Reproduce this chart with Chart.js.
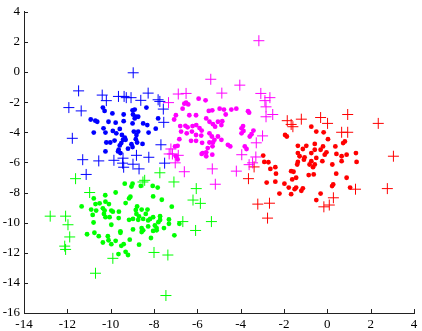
<!DOCTYPE html>
<html>
<head>
<meta charset="utf-8">
<script src="https://cdn.jsdelivr.net/npm/chart.js@4.4.0/dist/chart.umd.min.js"></script>
<style>
  html, body { margin: 0; padding: 0; background: #fff; }
  canvas { display: block; }
</style>
</head>
<body>
<canvas id="scatterChart" width="422" height="331"></canvas>
<script>
// Graduations des axes
const xTickValues = [-14, -12, -10, -8, -6, -4, -2, 0, 2, 4];
const yTickValues = [-16, -14, -12, -10, -8, -6, -4, -2, 0, 2, 4];

// Groupe bleu
const blueCore = [
    [-10.36,-2.36],[-10.28,-2.58],[-10.92,-3.15],[-10.71,-3.23],[-10.62,-3.3],[-10.78,-4.02],
    [-10.33,-3.74],[-10.24,-4.02],[-9.92,-2.75],[-10.1,-3.3],[-9.77,-3.36],[-9.4,-2.82],
    [-9.4,-3.26],[-9.58,-3.78],[-9.9,-3.91],[-9.74,-4.07],[-9.48,-4.18],[-9.35,-4.35],
    [-9.43,-4.5],[-9.31,-4.5],[-10.2,-4.68],[-10.02,-4.68],[-9.82,-4.55],[-10.24,-5.27],
    [-9.63,-5.16],[-9.58,-4.87],[-9.55,-5.38],[-9.2,-5.09],[-8.99,-2.54],[-8.89,-2.49],
    [-8.97,-2.82],[-8.99,-3.41],[-8.84,-2.97],[-8.89,-3.08],[-8.73,-2.97],[-8.93,-3.95],
    [-8.73,-3.95],[-8.81,-4.18],[-8.5,-3.41],[-8.84,-4.46],[-8.78,-4.68],[-8.53,-4.77],
    [-8.35,-2.36],[-8.31,-3.52],[-8.25,-4.02],[-7.92,-3.76],[-7.81,-3.08],[-9.04,-4.79],
    [-8.99,-4.98],[-9.66,-5.27],[-9.51,-4.72]
];
const bluePlus = [
    [-8.96,-0.05],[-11.48,-1.25],[-11.93,-2.36],[-11.36,-2.58],[-11.77,-4.4],[-10.39,-1.53],
    [-10.2,-1.9],[-9.64,-1.62],[-9.38,-1.62],[-9.28,-1.7],[-9.06,-1.7],[-8.61,-1.88],
    [-8.27,-1.4],[-7.81,-1.84],[-7.73,-1.95],[-7.57,-2.46],[-7.55,-3.34],[-7.68,-4.83],
    [-11.29,-5.82],[-10.55,-5.9],[-9.85,-5.86],[-9.43,-5.72],[-9.45,-6.05],[-9.4,-6.32],
    [-8.81,-5.53],[-8.97,-6.12],[-8.69,-6.43],[-8.24,-5.66],[-7.51,-6.05],[-11.13,-6.8]
];

// Groupe magenta
const magentaCore = [
    [-6.6,-2.1],[-6.52,-2.03],[-6.42,-2.15],[-6.68,-2.43],[-6.99,-2.87],[-5.94,-1.77],
    [-5.62,-1.88],[-6.37,-2.87],[-6.06,-2.87],[-7.07,-3.15],[-5.47,-2.58],[-5.31,-2.54],
    [-5.59,-3.08],[-5.44,-3.3],[-4.97,-2.43],[-4.77,-2.49],[-4.69,-2.82],[-4.43,-2.49],
    [-4.2,-2.43],[-5.05,-3.3],[-4.85,-3.26],[-4.89,-3.52],[-5.28,-3.46],[-5.18,-3.63],
    [-3.66,-2.6],[-3.61,-2.7],[-6.79,-3.59],[-6.55,-3.57],[-6.45,-3.67],[-6.22,-3.59],
    [-6.05,-3.52],[-5.9,-3.72],[-5.8,-3.89],[-6.75,-3.95],[-6.49,-4.07],[-6.25,-3.95],
    [-6.06,-4.18],[-5.82,-4.22],[-5.44,-4.07],[-5.33,-4.28],[-5.05,-4.28],[-6.83,-4.46],
    [-6.29,-4.57],[-6.06,-4.57],[-5.78,-4.7],[-5.44,-4.68],[-5.28,-4.68],[-5.21,-4.5],
    [-4.89,-4.5],[-4.59,-4.83],[-4.48,-4.94],[-6.91,-4.9],[-7.03,-4.94],[-5.52,-5.05],
    [-5.59,-5.33],[-5.8,-5.44],[-5.31,-5.49],[-5.59,-5.59],[-5.75,-5.38],[-6.99,-5.59],
    [-6.91,-5.8],[-3.96,-3.74],[-3.89,-3.59],[-3.87,-3.91],[-3.96,-4.07],[-3.58,-4.28],
    [-3.41,-3.89],[-3.5,-4.13],[-3.81,-4.94],[-3.73,-5.11],[-5.3,-4.93]
];
const magentaPlus = [
    [-3.16,2.08],[-5.38,-0.48],[-4.04,-0.87],[-4.87,-1.4],[-6.88,-1.46],[-6.52,-1.42],
    [-7.33,-2.03],[-3.07,-1.42],[-2.88,-1.9],[-2.65,-1.7],[-2.83,-2.31],[-2.83,-2.97],
    [-2.52,-2.82],[-2.99,-4.24],[-3.28,-4.7],[-3.95,-5.49],[-3.3,-5.64],[-3.61,-6.15],
    [-3.45,-6.03],[-7.22,-5.11],[-7.3,-5.44],[-7.15,-5.44],[-6.88,-5.53],[-7.02,-6.03],
    [-6.6,-6.62],[-5.31,-6.43],[-4.2,-6.58],[-5.17,-7.45]
];

// Groupe rouge
const redCore = [
    [-1.95,-4.18],[-1.87,-4.28],[-0.74,-3.63],[-0.51,-3.95],[-0.17,-4.0],[0.03,-4.46],
    [0.73,-4.72],[0.81,-4.61],[-1.36,-4.9],[-0.97,-4.9],[-1.13,-5.11],[-0.58,-4.77],
    [-0.58,-5.16],[-0.2,-4.94],[-0.31,-5.16],[-1.36,-5.38],[-1.28,-5.59],[-1.05,-5.66],
    [-0.74,-5.38],[-0.51,-5.7],[-0.04,-5.33],[-0.12,-5.49],[0.42,-5.44],[0.89,-5.49],
    [0.66,-5.59],[1.32,-5.38],[0.37,-4.94],[-2.96,-5.55],[-2.91,-5.97],[-2.72,-5.99],
    [-2.63,-6.43],[-2.4,-6.32],[-2.37,-6.75],[-2.8,-7.34],[-2.4,-7.28],[-2.21,-8.07],
    [-1.98,-7.41],[-1.78,-7.67],[-1.67,-8.11],[-1.67,-6.58],[-1.56,-6.62],[-1.62,-7.13],
    [-1.44,-7.02],[-1.51,-7.78],[-1.44,-7.67],[-1.2,-7.89],[-1.13,-7.72],[-1.39,-6.14],
    [-1.36,-5.97],[-1.08,-5.82],[-0.82,-6.14],[-0.74,-5.92],[-0.66,-6.32],[-0.58,-6.14],
    [-0.86,-6.84],[-0.63,-6.8],[-0.31,-8.07],[-0.51,-8.5],[-0.23,-5.92],[0.23,-6.14],
    [0.41,-6.75],[0.27,-7.46],[0.22,-7.57],[0.66,-5.92],[0.89,-7.02],[1.05,-7.67],
    [1.35,-5.97]
];
const redPlus = [
    [-1.85,-3.23],[-1.67,-3.48],[-1.59,-3.63],[-1.2,-3.13],[-0.31,-3.02],[0.01,-3.41],
    [0.94,-2.82],[0.66,-4.0],[0.94,-4.0],[2.35,-3.41],[3.05,-5.59],[-3.38,-6.3],
    [-3.64,-7.08],[-3.21,-8.77],[-2.67,-8.71],[-2.76,-9.7],[-0.16,-8.95],[0.09,-8.83],
    [0.28,-8.35],[1.3,-7.78],[2.77,-7.74]
];

// Groupe vert
const greenCore = [
    [-8.99,-7.41],[-9.04,-7.6],[-8.61,-7.56],[-8.06,-7.56],[-7.83,-7.67],[-9.77,-8.0],
    [-10.25,-8.18],[-10.78,-8.39],[-9.09,-8.28],[-9.15,-8.39],[-8.04,-8.26],[-7.64,-8.48],
    [-9.31,-8.7],[-10.7,-8.77],[-10.51,-8.72],[-10.08,-8.77],[-11.34,-8.92],[-10.9,-9.13],
    [-10.67,-9.2],[-10.36,-9.05],[-10.28,-9.2],[-9.97,-9.2],[-9.9,-9.27],[-9.62,-9.27],
    [-8.78,-8.92],[-8.84,-9.16],[-8.57,-9.13],[-8.3,-9.13],[-8.81,-9.42],[-8.69,-9.59],
    [-10.83,-9.49],[-10.31,-9.42],[-10.24,-9.64],[-10.05,-9.64],[-9.63,-9.7],[-8.38,-9.42],
    [-8.04,-9.64],[-7.18,-8.94],[-7.72,-9.57],[-9.15,-9.81],[-8.97,-9.75],[-8.73,-9.81],
    [-8.5,-9.75],[-8.27,-9.85],[-8.18,-9.75],[-7.8,-9.97],[-7.72,-9.82],[-7.31,-9.79],
    [-7.31,-10.08],[-6.83,-10.08],[-9.97,-10.14],[-9.55,-10.58],[-8.97,-10.45],[-8.57,-10.36],
    [-8.5,-10.51],[-8.27,-10.25],[-7.96,-10.19],[-7.88,-10.36],[-8.04,-10.55],[-7.88,-10.51],
    [-7.54,-10.36],[-11.09,-10.77],[-10.75,-10.67],[-10.55,-10.9],[-10.13,-10.9],[-10.1,-11.17],
    [-10.36,-11.32],[-9.97,-11.43],[-9.77,-11.21],[-9.55,-10.67],[-9.51,-11.54],[-9.4,-11.43],
    [-9.64,-12.09],[-9.31,-11.94],[-9.2,-12.15],[-9.12,-11.13],[-8.69,-11.46],[-8.57,-10.62],
    [-8.14,-11.02],[-7.06,-10.84],[-10.79,-9.99],[-10.24,-8.61],[-9.35,-7.41]
];
const greenPlus = [
    [-11.62,-7.08],[-10.97,-8.0],[-12.79,-9.57],[-12.08,-9.57],[-11.97,-10.14],[-8.43,-7.19],
    [-8.51,-7.3],[-7.73,-6.69],[-7.08,-7.3],[-6.05,-7.74],[-6.2,-8.5],[-5.86,-8.72],
    [-6.67,-9.93],[-5.35,-9.93],[-6.08,-10.52],[-11.89,-10.95],[-12.12,-11.56],[-12.08,-11.78],
    [-9.9,-12.37],[-8.0,-11.98],[-7.36,-12.15],[-10.7,-13.36],[-7.45,-14.84]
];

function toPoints(arr) {
    return arr.map(p => ({ x: p[0], y: p[1] }));
}

function coreSet(arr, color) {
    return {
        data: toPoints(arr),
        pointStyle: 'circle',
        pointRadius: 2.4,
        pointBorderWidth: 0,
        backgroundColor: color,
        borderColor: color
    };
}

function plusSet(arr, color) {
    return {
        data: toPoints(arr),
        pointStyle: 'cross',
        pointRadius: 5.5,
        pointBorderWidth: 1,
        backgroundColor: color,
        borderColor: color
    };
}

// Petits traits de graduation vers l'intérieur
const inwardTicks = {
    id: 'inwardTicks',
    afterDraw(chart) {
        const { ctx, chartArea, scales } = chart;
        ctx.save();
        ctx.strokeStyle = '#222';
        ctx.lineWidth = 1;
        ctx.beginPath();
        scales.x.ticks.forEach((t, i) => {
            const px = Math.round(scales.x.getPixelForTick(i)) + 0.5;
            ctx.moveTo(px, chartArea.bottom);
            ctx.lineTo(px, chartArea.bottom - 4);
        });
        scales.y.ticks.forEach((t, i) => {
            const py = Math.round(scales.y.getPixelForTick(i)) + 0.5;
            ctx.moveTo(chartArea.left, py);
            ctx.lineTo(chartArea.left + 4, py);
        });
        ctx.stroke();
        ctx.restore();
    }
};

Chart.defaults.font.family = 'Liberation Serif';
Chart.defaults.font.size = 13;
Chart.defaults.color = '#000';

new Chart(document.getElementById('scatterChart'), {
    type: 'scatter',
    data: {
        datasets: [
            coreSet(blueCore, '#0000ff'),
            plusSet(bluePlus, '#0000ff'),
            coreSet(magentaCore, '#ff00ff'),
            plusSet(magentaPlus, '#ff00ff'),
            coreSet(redCore, '#ff0000'),
            plusSet(redPlus, '#ff0000'),
            coreSet(greenCore, '#00ff00'),
            plusSet(greenPlus, '#00ff00')
        ]
    },
    options: {
        responsive: false,
        animation: false,
        layout: { padding: { left: 0, top: 7, right: 8, bottom: 0 } },
        plugins: {
            legend: { display: false },
            tooltip: { enabled: false }
        },
        scales: {
            x: {
                type: 'linear',
                min: xTickValues[0],
                max: xTickValues[xTickValues.length - 1],
                afterBuildTicks: scale => {
                    scale.ticks = xTickValues.map(v => ({ value: v }));
                },
                afterFit: scale => { scale.height = 18; },
                grid: { display: false, drawTicks: false },
                border: { display: true, color: '#222', width: 1 },
                ticks: {
                    font: { family: 'Liberation Serif', size: 13 },
                    color: '#000', padding: 4, maxRotation: 0
                }
            },
            y: {
                type: 'linear',
                min: yTickValues[0],
                max: yTickValues[yTickValues.length - 1],
                afterBuildTicks: scale => {
                    scale.ticks = yTickValues.map(v => ({ value: v }));
                },
                afterFit: scale => { scale.width = 24; },
                grid: { display: false, drawTicks: false },
                border: { display: true, color: '#222', width: 1 },
                ticks: {
                    font: { family: 'Liberation Serif', size: 13 },
                    color: '#000', padding: 4
                }
            }
        }
    },
    plugins: [inwardTicks]
});
</script>
</body>
</html>
